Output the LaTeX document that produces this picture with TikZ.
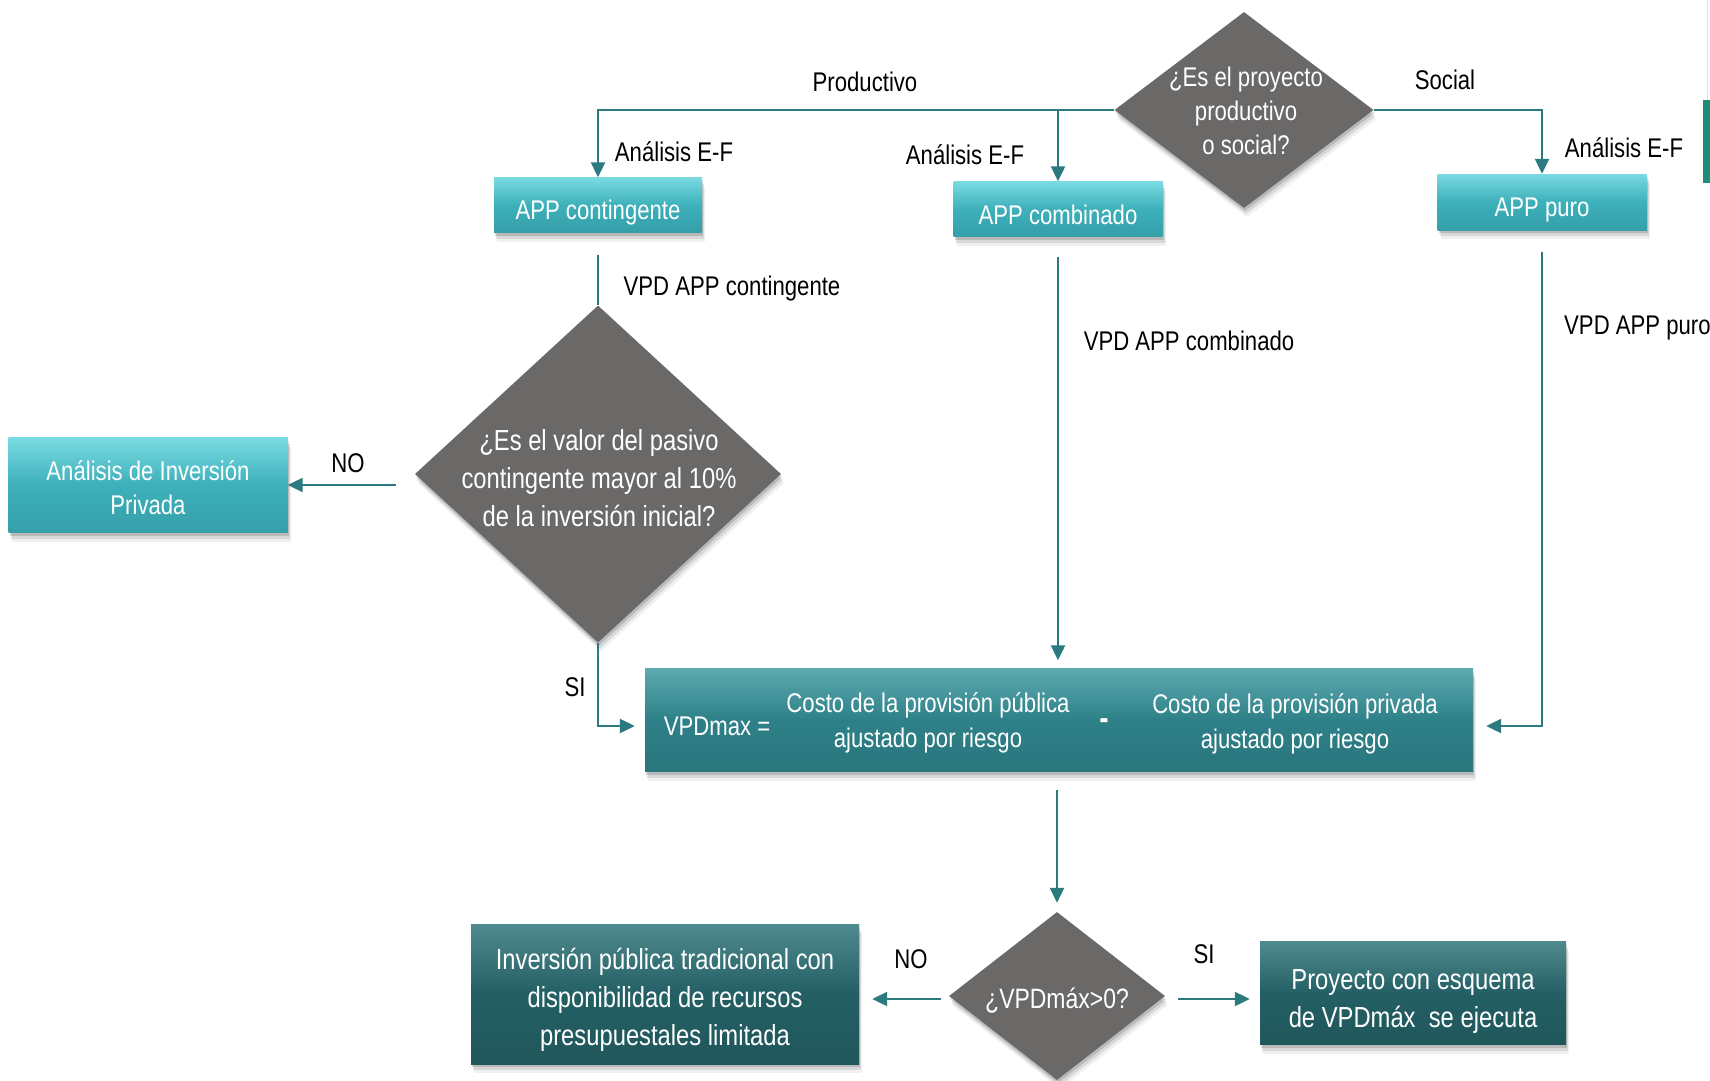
\documentclass[tikz,border=0pt]{standalone}
\usepackage{fontspec}
\setmainfont{Liberation Sans}[FakeStretch=0.82]
\usetikzlibrary{shapes.geometric,arrows.meta,shadows}
\definecolor{tline}{HTML}{2A7A80}
\definecolor{ltop}{HTML}{7ADAE2}
\definecolor{lmid}{HTML}{3DB0BA}
\definecolor{lbot}{HTML}{359FA9}
\definecolor{mtop}{HTML}{5DAAB0}
\definecolor{mmid}{HTML}{2E8088}
\definecolor{mbot}{HTML}{2A767D}
\definecolor{dtop}{HTML}{4F8A8E}
\definecolor{dmid}{HTML}{235F64}
\definecolor{dbot}{HTML}{20575B}
\definecolor{dgray}{HTML}{6B6868}
\definecolor{sliver}{HTML}{1F8C78}
\newcommand\myfs[2]{\fontsize{#1}{#2}\selectfont}
\begin{document}
\begin{tikzpicture}[x=1pt,y=-1pt,
  shad/.style={drop shadow={shadow xshift=1pt,shadow yshift=-3pt,opacity=0.14,fill=black},
               drop shadow={shadow xshift=2pt,shadow yshift=-6pt,opacity=0.10,fill=black},
               drop shadow={shadow xshift=3pt,shadow yshift=-9pt,opacity=0.06,fill=black}},
  lightbox/.style={rectangle,shad,top color=ltop,bottom color=lbot,middle color=lmid,inner sep=0pt},
  midbox/.style={rectangle,shad,top color=mtop,bottom color=mbot,middle color=mmid,inner sep=0pt},
  darkbox/.style={rectangle,shad,top color=dtop,bottom color=dbot,middle color=dmid,inner sep=0pt},
  dia/.style={diamond,shad,fill=dgray,inner sep=0pt},
  wtext/.style={text=white,align=center,inner sep=0pt,font=\myfs{27}{34}},
  btext/.style={text=white,align=center,inner sep=0pt,font=\myfs{29}{38}},
  lbl/.style={text=black,inner sep=0pt,font=\myfs{27}{34}},
  conn/.style={draw=tline,line width=2.2pt},
  arr/.style={conn,-{Triangle[length=15pt,width=14pt]}}
]
\useasboundingbox (0,0) rectangle (1710,1081);

% edge sliver
\draw[draw=black!12,line width=1pt] (1707,0) -- (1707,100);
\fill[sliver] (1703,100) rectangle (1710,183);

% decision 1
\node[dia,minimum width=259pt,minimum height=196pt] (d1) at (1244,110) {};
\node[wtext] (d1t) at (1246,111) {¿Es el proyecto\\productivo\\o social?};

% APP boxes
\node[lightbox,minimum width=208pt,minimum height=55pt] (c1) at (598,205) {};
\node[wtext] (c1t) at ([yshift=-8pt]c1.center) {APP contingente};
\node[lightbox,minimum width=209pt,minimum height=55pt] (c2) at (1058,209) {};
\node[wtext] (c2t) at ([yshift=-6pt]c2.center) {APP combinado};
\node[lightbox,minimum width=209pt,minimum height=56pt] (c3) at (1542,202) {};
\node[wtext] (c3t) at ([yshift=-8pt]c3.center) {APP puro};

% decision 2
\node[dia,minimum width=366pt,minimum height=337pt] (d2) at (598,474) {};
\node[btext] (d2t) at (599,478) {¿Es el valor del pasivo\\contingente mayor al 10\%\\de la inversión inicial?};

\node[lightbox,minimum width=279pt,minimum height=95pt] (a1) at (148,485) {};
\node[wtext] (a1t) at ([yshift=-3pt]a1.center) {Análisis de Inversión\\Privada};

% VPD box
\node[midbox,minimum width=828pt,minimum height=103pt] (vpd) at (1059,720) {};
\node[wtext] (vpd1) at (717,726) {VPDmax =};
\node[wtext,font=\myfs{27}{35}] (vpd2) at (928,723) {Costo de la provisión pública\\ajustado por riesgo};
\node[wtext,font=\bfseries\myfs{34}{34}] (vpd3) at (1104,724) {-};
\node[wtext,font=\myfs{27}{35}] (vpd4) at (1295,724) {Costo de la provisión privada\\ajustado por riesgo};

% decision 3
\node[dia,minimum width=216pt,minimum height=168pt] (d3) at (1057,996) {};
\node[wtext,font=\myfs{28}{34}] (d3t) at (1057,1001) {¿VPDmáx>0?};

% outcome boxes
\node[darkbox,minimum width=388pt,minimum height=140pt] (b1) at (665,994) {};
\node[btext] (b1t) at ([yshift=-6pt]b1.center) {Inversión pública tradicional con\\disponibilidad de recursos\\presupuestales limitada};
\node[darkbox,minimum width=306pt,minimum height=103pt] (b2) at (1413,993) {};
\node[btext] (b2t) at ([yshift=-9pt]b2.center) {Proyecto con esquema\\de VPDmáx\ \ se ejecuta};

% connectors from decision 1
\draw[arr] (d1.west) -| (c1.north);
\draw[arr] (d1.west -| c2.north) -- (c2.north);
\draw[arr] (d1.east) -| (c3.north);

\node[lbl] (lprod) at (865,82) {Productivo};
\node[lbl] (lsoc) at (1445,80) {Social};
\node[lbl] (lef1) at (674,152) {Análisis E-F};
\node[lbl] (lef2) at (965,155) {Análisis E-F};
\node[lbl] (lef3) at (1624,148) {Análisis E-F};

% VPD paths
\draw[conn] ([yshift=-22pt]d2.north |- c1.south) -- (d2.north);
\node[lbl] (lv1) at (732,289) {VPD APP contingente};
\draw[arr] ([yshift=-20pt]c2.south) -- ([yshift=8pt]c2.south |- vpd.north);
\node[lbl] (lv2) at (1189,341) {VPD APP combinado};
\draw[arr] ([yshift=-22pt]c3.south) |- ([xshift=13pt,yshift=-6pt]vpd.east);
\node[lbl,anchor=west] (lv3) at (1564,328) {VPD APP puro};

% decision 2 branches
\draw[arr] ([xshift=-19pt]d2.west |- a1.east) -- (a1.east);
\node[lbl] (lno1) at (348,463) {NO};
\draw[arr] (d2.south) |- ([xshift=-10pt,yshift=-6pt]vpd.west);
\node[lbl] (lsi1) at (575,687) {SI};

% to decision 3
\draw[arr] ([yshift=-18pt]d3.north |- vpd.south) -- ([yshift=9pt]d3.north);
\draw[arr] ([xshift=-8pt,yshift=-3pt]d3.west) -- ([xshift=13pt,yshift=-3pt]d3.west -| b1.east);
\node[lbl] (lno2) at (911,959) {NO};
\draw[arr] ([xshift=13pt,yshift=-3pt]d3.east) -- ([xshift=-10pt,yshift=-3pt]d3.east -| b2.west);
\node[lbl] (lsi2) at (1204,954) {SI};
\end{tikzpicture}
\end{document}
